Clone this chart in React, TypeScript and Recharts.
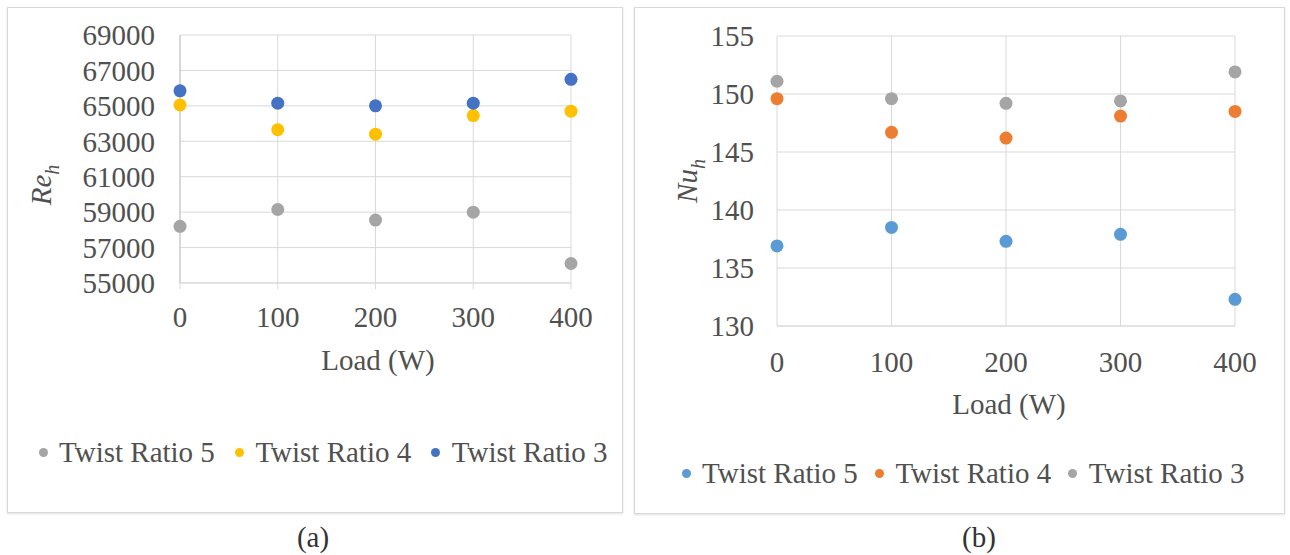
import { ScatterChart, Scatter, XAxis, YAxis, CartesianGrid, Legend } from "recharts";

const FONT = '"Liberation Serif", "Times New Roman", serif';
const TEXT = "#505050";
const GRID = "#d9d9d9";

const loads = [0, 100, 200, 300, 400];
const loadTicks = [0, 100, 200, 300, 400];
const seriesNames = ["Twist Ratio 5", "Twist Ratio 4", "Twist Ratio 3"];

// (a) Re_h
const reTicks = [55000, 57000, 59000, 61000, 63000, 65000, 67000, 69000];
const reTwist5 = [58200, 59150, 58550, 59000, 56100];
const reTwist4 = [65050, 63650, 63400, 64450, 64700];
const reTwist3 = [65850, 65150, 65000, 65150, 66500];
const colorsA = ["#A5A5A5", "#FFC000", "#4472C4"];

// (b) Nu_h
const nuTicks = [130, 135, 140, 145, 150, 155];
const nuTwist5 = [136.9, 138.5, 137.3, 137.9, 132.3];
const nuTwist4 = [149.6, 146.7, 146.2, 148.1, 148.5];
const nuTwist3 = [151.1, 149.6, 149.2, 149.4, 151.9];
const colorsB = ["#5B9BD5", "#ED7D31", "#A5A5A5"];

const toPoints = (values: number[]) => loads.map((load, i) => ({ load, value: values[i] }));

const dotShape = (color: string) => (p: any) => (
  <circle cx={p.cx} cy={p.cy} r={6.5} fill={color} />
);

// axis titles sit at fixed spots inside each chart's svg
const XTitle = ({ text, cx, cy }: any) => (
  <text x={cx} y={cy} textAnchor="middle" dominantBaseline="central" fill={TEXT} style={{ fontFamily: FONT, fontSize: 29 }}>
    {text}
  </text>
);

const YTitle = ({ main, sub, cx, cy }: any) => (
  <g transform={`translate(${cx},${cy}) rotate(-90)`}>
    <text
      x={0}
      y={0}
      textAnchor="middle"
      dominantBaseline="central"
      fill={TEXT}
      style={{ fontFamily: FONT, fontSize: 29, fontStyle: "italic" }}
    >
      <tspan>{main}</tspan>
      <tspan baselineShift="sub" style={{ fontSize: 20 }}>
        {sub}
      </tspan>
    </text>
  </g>
);

const legendContent = (gap: number) => (props: any) => {
  const items = [...(props.payload || [])].sort(
    (a: any, b: any) => seriesNames.indexOf(a.value) - seriesNames.indexOf(b.value)
  );
  return (
    <div style={{ display: "flex", alignItems: "center", fontFamily: FONT, fontSize: 29, color: TEXT, lineHeight: "34px", whiteSpace: "nowrap" }}>
      {items.map((entry: any) => (
        <div key={entry.value} style={{ display: "flex", alignItems: "center", marginRight: gap }}>
          <span style={{ display: "inline-block", width: 9, height: 9, borderRadius: "50%", background: entry.color, marginRight: 11.5 }} />
          <span>{entry.value}</span>
        </div>
      ))}
    </div>
  );
};

const tickStyle = { fill: TEXT, fontSize: 29, fontFamily: FONT };

const panelStyle = (left: number, top: number, width: number, height: number) => ({
  position: "absolute" as const,
  left,
  top,
  width,
  height,
  boxSizing: "border-box" as const,
  border: `1px solid ${GRID}`,
  boxShadow: "0 1px 2px rgba(0,0,0,0.12)",
  background: "#fff",
});

const captionStyle = (cx: number) => ({
  position: "absolute" as const,
  left: cx - 50,
  top: 521,
  width: 100,
  height: 32,
  lineHeight: "32px",
  textAlign: "center" as const,
  fontFamily: FONT,
  fontSize: 29,
  color: "#333",
});

export default function App() {
  const seriesA = [reTwist5, reTwist4, reTwist3];
  const seriesB = [nuTwist5, nuTwist4, nuTwist3];

  return (
    <div style={{ position: "absolute", left: 0, top: 0, width: 1290, height: 555, background: "#fff", fontFamily: FONT, overflow: "hidden" }}>
      <div style={panelStyle(7, 7, 616, 506)} />
      <div style={panelStyle(634, 7, 651, 507)} />

      {/* (a) */}
      <div style={{ position: "absolute", left: 8, top: 7 }}>
        <ScatterChart width={614} height={505} margin={{ top: 28, right: 51, left: 0, bottom: 149 }}>
          <CartesianGrid stroke={GRID} strokeWidth={1} />
          <XAxis
            type="number"
            dataKey="load"
            domain={[0, 400]}
            ticks={loadTicks}
            interval={0}
            height={80}
            tick={tickStyle}
            tickSize={6}
            tickMargin={17}
            axisLine={{ stroke: GRID }}
            tickLine={{ stroke: GRID }}
            label={<XTitle text="Load (W)" cx={370} cy={353} />}
          />
          <YAxis
            type="number"
            dataKey="value"
            domain={[55000, 69000]}
            ticks={reTicks}
            interval={0}
            width={172}
            tick={tickStyle}
            tickSize={0}
            tickMargin={25}
            axisLine={{ stroke: "#c4c4c4" }}
            tickLine={false}
            label={<YTitle main="Re" sub="h" cx={33} cy={178} />}
          />
          <Legend verticalAlign="middle" layout="horizontal" wrapperStyle={{ top: 428, left: 30.5, width: 590 }} content={legendContent(20)} />
          {seriesA.map((vals, i) => (
            <Scatter
              key={seriesNames[i]}
              name={seriesNames[i]}
              data={toPoints(vals)}
              fill={colorsA[i]}
              shape={dotShape(colorsA[i])}
              isAnimationActive={false}
            />
          ))}
        </ScatterChart>
      </div>

      {/* (b) */}
      <div style={{ position: "absolute", left: 634, top: 7 }}>
        <ScatterChart width={650} height={506} margin={{ top: 29, right: 49, left: 0, bottom: 107 }}>
          <CartesianGrid stroke={GRID} strokeWidth={1} />
          <XAxis
            type="number"
            dataKey="load"
            domain={[0, 400]}
            ticks={loadTicks}
            interval={0}
            height={80}
            tick={tickStyle}
            tickSize={0}
            tickMargin={25}
            axisLine={{ stroke: GRID }}
            tickLine={false}
            label={<XTitle text="Load (W)" cx={375} cy={397} />}
          />
          <YAxis
            type="number"
            dataKey="value"
            domain={[130, 155]}
            ticks={nuTicks}
            interval={0}
            width={143}
            tick={tickStyle}
            tickSize={0}
            tickMargin={23}
            axisLine={false}
            tickLine={false}
            label={<YTitle main="Nu" sub="h" cx={53} cy={174} />}
          />
          <Legend verticalAlign="middle" layout="horizontal" wrapperStyle={{ top: 449, left: 47.5, width: 600 }} content={legendContent(17)} />
          {seriesB.map((vals, i) => (
            <Scatter
              key={seriesNames[i]}
              name={seriesNames[i]}
              data={toPoints(vals)}
              fill={colorsB[i]}
              shape={dotShape(colorsB[i])}
              isAnimationActive={false}
            />
          ))}
        </ScatterChart>
      </div>

      <div style={captionStyle(313)}>(a)</div>
      <div style={captionStyle(979)}>(b)</div>
    </div>
  );
}
